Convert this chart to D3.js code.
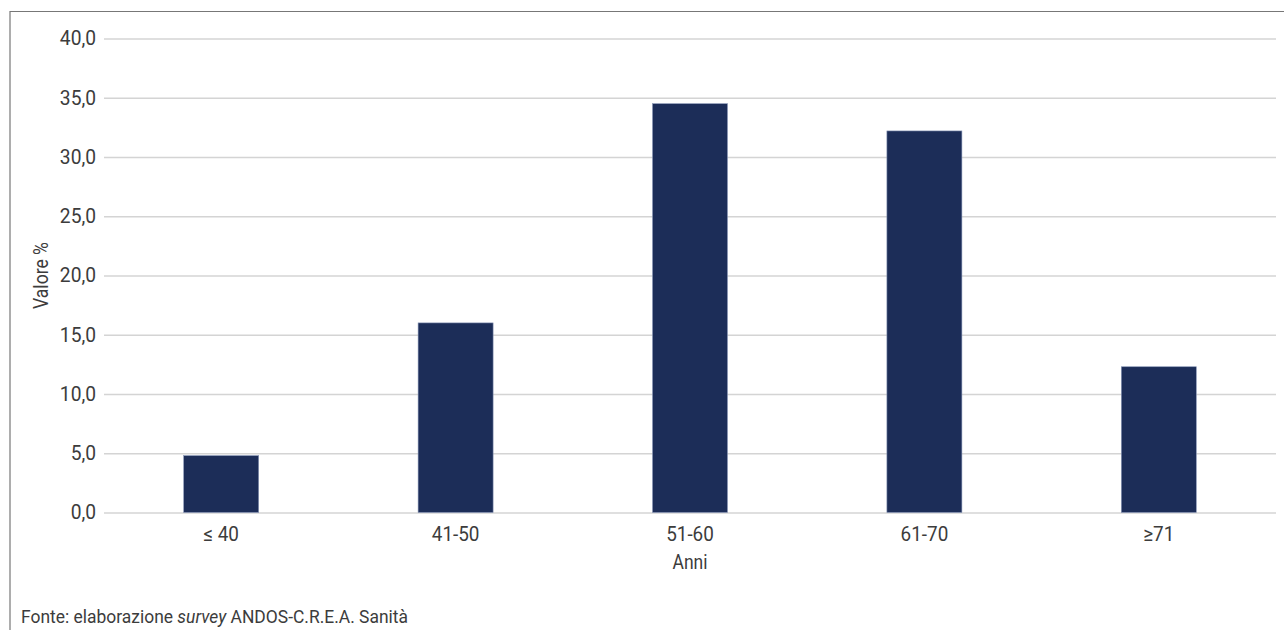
<!DOCTYPE html>
<html>
<head>
<meta charset="utf-8">
<script src="https://cdn.jsdelivr.net/npm/d3@7"></script>
<style>
  html, body { margin: 0; padding: 0; background: #fff; }
  svg { display: block; }
  text { font-family: "Roboto", "Liberation Sans", sans-serif; fill: #3c3c3c; }
</style>
</head>
<body>
<svg id="chart" width="1284" height="630"></svg>
<script>
// Age classes and share of respondents (%)
const categories = ["≤ 40", "41-50", "51-60", "61-70", "≥71"];
const values = [4.8, 16.0, 34.5, 32.2, 12.3];
const yTicks = [0, 5, 10, 15, 20, 25, 30, 35, 40];

const svg = d3.select("#chart");
const W = 1284, H = 630;
const plot = { left: 104, right: 1276, top: 38.5, bottom: 512.5 };

// Narrow a text run horizontally to give a condensed look
function squeeze(sel, factor, target) {
  sel.each(function () {
    const len = this.getComputedTextLength();
    const goal = target != null ? target : len * factor;
    this.setAttribute("textLength", goal);
    this.setAttribute("lengthAdjust", "spacingAndGlyphs");
  });
}

// Frame lines (top and left)
svg.append("path")
  .attr("d", `M10,${H} V11.5 H${W}`)
  .attr("fill", "none")
  .attr("stroke", "#777")
  .attr("stroke-width", 1.2);

const x = d3.scaleBand()
  .domain(categories)
  .range([plot.left, plot.right])
  .paddingInner(0.68)
  .paddingOuter(0.34);

const y = d3.scaleLinear()
  .domain([0, 40])
  .range([plot.bottom, plot.top]);

const fmt = v => d3.format(".1f")(v).replace(".", ",");

// Horizontal gridlines with left labels
const yAxis = svg.append("g")
  .attr("transform", `translate(${plot.left},0)`)
  .call(d3.axisLeft(y).tickValues(yTicks).tickFormat(fmt)
    .tickSize(-(plot.right - plot.left)).tickPadding(8));
yAxis.select(".domain").remove();
yAxis.selectAll(".tick line").attr("stroke", "#d4d4d4").attr("stroke-width", 1.5);
yAxis.selectAll(".tick text")
  .attr("font-size", 20)
  .attr("font-family", "Roboto, sans-serif")
  .style("fill", "#3c3c3c")
  .call(squeeze, 0.96);

// Bars
svg.append("g").selectAll("rect")
  .data(values)
  .join("rect")
  .attr("x", (d, i) => x(categories[i]))
  .attr("y", d => y(d))
  .attr("width", x.bandwidth())
  .attr("height", d => y(0) - y(d))
  .attr("fill", "#1c2d58")
  .attr("stroke", "#8a98b8")
  .attr("stroke-width", 0.6);

// Category labels
const xAxis = svg.append("g")
  .attr("transform", `translate(0,${plot.bottom})`)
  .call(d3.axisBottom(x).tickSize(0).tickPadding(14));
xAxis.select(".domain").remove();
xAxis.selectAll(".tick text")
  .attr("font-size", 21)
  .attr("font-family", "Roboto, sans-serif")
  .style("fill", "#3c3c3c")
  .call(squeeze, 0.9);

// Axis titles
svg.append("text")
  .attr("x", (plot.left + plot.right) / 2)
  .attr("y", 569)
  .attr("text-anchor", "middle")
  .attr("font-size", 21)
  .text("Anni")
  .call(squeeze, null, 35);

svg.append("text")
  .attr("transform", `translate(48,${(plot.top + plot.bottom) / 2}) rotate(-90)`)
  .attr("text-anchor", "middle")
  .attr("font-size", 20)
  .text("Valore %")
  .call(squeeze, null, 67);

// Source note
const src = svg.append("text")
  .attr("x", 21)
  .attr("y", 623)
  .attr("font-size", 18);
src.append("tspan").text("Fonte: elaborazione ");
src.append("tspan").attr("font-style", "italic").text("survey");
src.append("tspan").text(" ANDOS-C.R.E.A. Sanità");
src.call(squeeze, null, 387);
</script>
</body>
</html>
